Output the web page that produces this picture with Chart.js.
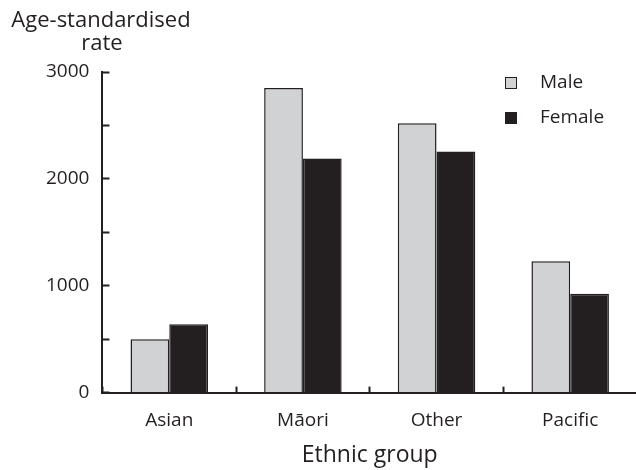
<!DOCTYPE html>
<html>
<head>
<meta charset="utf-8">
<script src="https://cdn.jsdelivr.net/npm/chart.js@4.4.0/dist/chart.umd.min.js"></script>
<style>
  html, body { margin: 0; padding: 0; background: #fff; overflow: hidden; }
  #wrap { width: 640px; height: 470px; }
</style>
</head>
<body>
<div id="wrap"><canvas id="chart"></canvas></div>
<script>
const categories = ["Asian", "Māori", "Other", "Pacific"];
const maleRates = [500, 2850, 2520, 1230];
const femaleRates = [640, 2190, 2255, 925];
const yLabelTicks = [0, 1000, 2000, 3000];
const yTitleLines = ["Age-standardised", "rate"];
const xTitle = "Ethnic group";

const ink = "#231f20";
const maleFill = "#d1d2d4";
const fontFamily = "'Open Sans', sans-serif";
const fontSize = 19;
const titleSize = 22;

// y axis title sits above the axis, horizontal, two centred lines
const yTitlePlugin = {
  id: "yTitle",
  afterDraw(chart) {
    const ctx = chart.ctx;
    ctx.save();
    ctx.fillStyle = ink;
    ctx.font = `${titleSize}px ${fontFamily}`;
    ctx.textAlign = "center";
    ctx.textBaseline = "alphabetic";
    ctx.fillText(yTitleLines[0], 101, 27);
    ctx.fillText(yTitleLines[1], 102, 50);
    ctx.restore();
  }
};

// legend drawn inside the plot, top right
const innerLegend = {
  id: "innerLegend",
  afterDatasetsDraw(chart) {
    const ctx = chart.ctx;
    ctx.save();
    ctx.font = `${fontSize}px ${fontFamily}`;
    ctx.textBaseline = "middle";
    chart.data.datasets.forEach((ds, i) => {
      const y = 83 + i * 35;
      ctx.fillStyle = ds.backgroundColor;
      ctx.fillRect(505, y - 6, 12, 12);
      ctx.strokeStyle = ds.borderColor;
      ctx.lineWidth = 1;
      ctx.strokeRect(505.5, y - 5.5, 11, 11);
      ctx.fillStyle = ink;
      ctx.fillText(ds.label, 540, y);
    });
    ctx.restore();
  }
};

const data = {
  labels: categories,
  datasets: [
    {
      label: "Male",
      data: maleRates,
      backgroundColor: maleFill,
      borderColor: ink,
      borderWidth: 1.5,
    },
    {
      label: "Female",
      data: femaleRates,
      backgroundColor: ink,
      borderColor: ink,
      borderWidth: 1.5,
    },
  ],
};

const config = {
  type: "bar",
  data: data,
  options: {
    responsive: true,
    maintainAspectRatio: false,
    animation: false,
    layout: { padding: { top: 72, left: 26, right: 3, bottom: 0 } },
    datasets: { bar: { barPercentage: 1, categoryPercentage: 0.58 } },
    plugins: { legend: { display: false }, tooltip: { enabled: false } },
    scales: {
      x: {
        offset: true,
        grid: {
          offset: true,
          drawOnChartArea: false,
          tickLength: -6,
          tickWidth: 2,
          tickColor: ink,
        },
        border: { color: ink, width: 2 },
        ticks: {
          color: ink,
          padding: 23,
          font: { family: fontFamily, size: fontSize },
        },
        title: {
          display: true,
          text: xTitle,
          color: ink,
          padding: { top: -14, bottom: 1 },
          font: { family: fontFamily, size: 23 },
        },
      },
      y: {
        min: 0,
        max: 3000,
        grid: {
          drawOnChartArea: false,
          tickLength: -7,
          tickWidth: 2,
          tickColor: ink,
        },
        border: { color: ink, width: 2 },
        ticks: {
          stepSize: 500,
          color: ink,
          padding: 20,
          font: { family: fontFamily, size: fontSize },
          callback: (value) => (yLabelTicks.includes(value) ? value : ""),
        },
      },
    },
  },
  plugins: [yTitlePlugin, innerLegend],
};

new Chart(document.querySelector("#chart"), config);
</script>
</body>
</html>
